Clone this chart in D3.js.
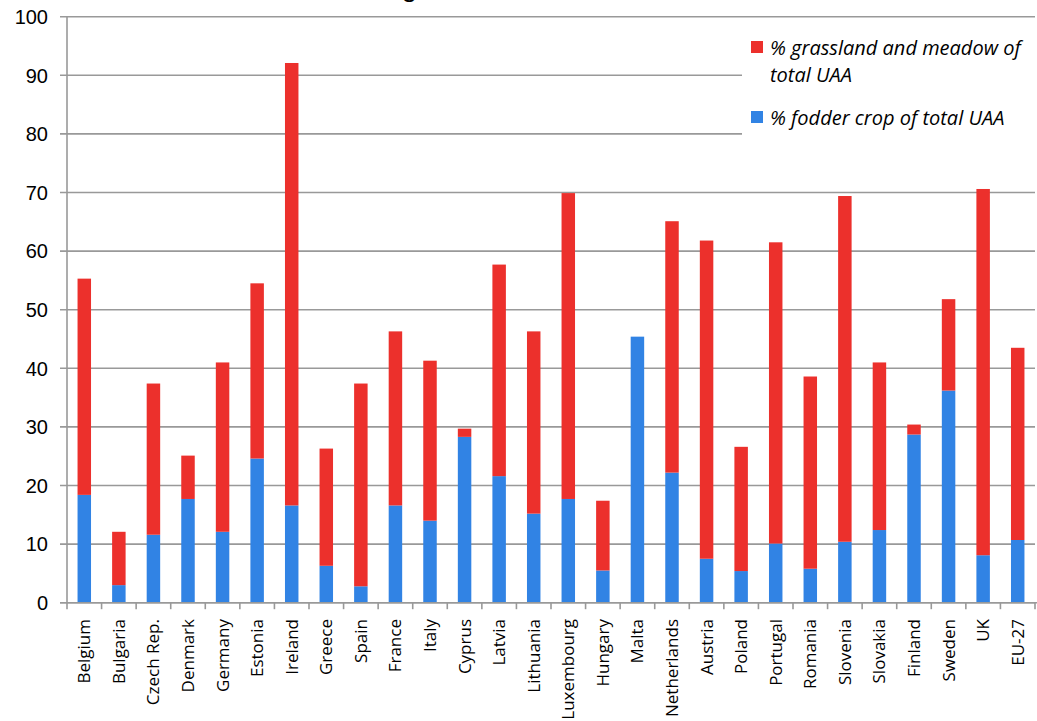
<!DOCTYPE html>
<html>
<head>
<meta charset="utf-8">
<script src="https://cdn.jsdelivr.net/npm/d3@7"></script>
<style>
  html, body { margin: 0; padding: 0; background: #fff; }
  svg { display: block; }
</style>
</head>
<body>
<div id="chart"></div>
<script>
const categories = ["Belgium","Bulgaria","Czech Rep.","Denmark","Germany","Estonia","Ireland","Greece","Spain","France","Italy","Cyprus","Latvia","Lithuania","Luxembourg","Hungary","Malta","Netherlands","Austria","Poland","Portugal","Romania","Slovenia","Slovakia","Finland","Sweden","UK","EU-27"];
const fodder = [18.4,3.0,11.6,17.7,12.1,24.6,16.6,6.3,2.8,16.6,14.0,28.3,21.6,15.2,17.7,5.5,45.4,22.2,7.5,5.4,10.1,5.8,10.4,12.4,28.7,36.2,8.1,10.7];
const grassland = [36.9,9.1,25.8,7.4,28.9,29.9,75.5,20.0,34.6,29.7,27.3,1.4,36.1,31.1,52.2,11.9,0.0,42.9,54.3,21.2,51.4,32.8,59.0,28.6,1.7,15.6,62.5,32.8];
const yTicks = [0,10,20,30,40,50,60,70,80,90,100];
const seriesColors = ["#ec302c", "#3183e4"];

const W = 1037, H = 721;
const svg = d3.select("#chart").append("svg").attr("width", W).attr("height", H);

const x = d3.scaleBand().domain(categories).range([67, 1035]).padding(0);
const y = d3.scaleLinear().domain([0, 100]).range([602.7, 16.7]);
const barW = x.bandwidth() * 0.39;

// title fragment (cut off at top, as in the reference)
svg.append("text").attr("x", 386).attr("y", -4)
  .attr("font-family", "Liberation Sans, Arial, sans-serif").attr("font-size", 28)
  .attr("fill", "#000").text(", g");

// gridlines
const grid = svg.append("g");
yTicks.forEach(t => {
  grid.append("line")
    .attr("x1", 60).attr("x2", 1035)
    .attr("y1", y(t)).attr("y2", y(t))
    .attr("stroke", "#999").attr("stroke-width", 1.6);
});

// y labels
svg.append("g").selectAll("text").data(yTicks).join("text")
  .attr("x", 48).attr("y", d => y(d)).attr("dy", "0.36em")
  .attr("text-anchor", "end")
  .attr("font-family", "Liberation Sans, Arial, sans-serif").attr("font-size", 20)
  .attr("fill", "#000").text(d => d);

// legend background (covers gridlines)
svg.append("rect").attr("x", 742).attr("y", 26).attr("width", 295).attr("height", 124).attr("fill", "#fff");

// bars
const stack = categories.map((c, i) => ({ c, f: fodder[i], g: grassland[i] }));
const bars = svg.append("g");
bars.selectAll("rect.f").data(stack).join("rect").attr("class", "f")
  .attr("x", d => x(d.c) + (x.bandwidth() - barW) / 2)
  .attr("width", barW)
  .attr("y", d => y(d.f))
  .attr("height", d => y(0) - y(d.f))
  .attr("fill", seriesColors[1]);
bars.selectAll("rect.g").data(stack.filter(d => d.g > 0)).join("rect").attr("class", "g")
  .attr("x", d => x(d.c) + (x.bandwidth() - barW) / 2)
  .attr("width", barW)
  .attr("y", d => y(d.f + d.g))
  .attr("height", d => y(d.f) - y(d.f + d.g))
  .attr("fill", seriesColors[0]);

// y axis line
svg.append("line").attr("x1", 67).attr("x2", 67).attr("y1", y(100)).attr("y2", y(0))
  .attr("stroke", "#999").attr("stroke-width", 1.6);

// x axis ticks
const bounds = categories.map(c => x(c)).concat([x.range()[1]]);
svg.append("g").selectAll("line").data(bounds).join("line")
  .attr("x1", d => d).attr("x2", d => d)
  .attr("y1", y(0)).attr("y2", y(0) + 6.5)
  .attr("stroke", "#999").attr("stroke-width", 1.6);
svg.append("line").attr("x1", 60).attr("x2", 1037).attr("y1", y(0)).attr("y2", y(0))
  .attr("stroke", "#999").attr("stroke-width", 1.6);

// x labels
svg.append("g").selectAll("text").data(categories).join("text")
  .attr("transform", d => `translate(${x(d) + x.bandwidth() / 2 + 6},619) rotate(-90)`)
  .attr("text-anchor", "end")
  .attr("font-family", "Open Sans, sans-serif").attr("font-size", 17)
  .attr("fill", "#000").text(d => d);

// legend
const lg = svg.append("g").attr("font-family", "Open Sans, sans-serif").attr("font-style", "italic")
  .attr("font-size", 20).attr("fill", "#000");
lg.append("rect").attr("x", 751).attr("y", 41).attr("width", 12).attr("height", 12).attr("fill", seriesColors[0]);
lg.append("text").attr("x", 770).attr("y", 55).text("% grassland and meadow of");
lg.append("text").attr("x", 770).attr("y", 82).text("total UAA");
lg.append("rect").attr("x", 751).attr("y", 111).attr("width", 12).attr("height", 12).attr("fill", seriesColors[1]);
lg.append("text").attr("x", 770).attr("y", 125).text("% fodder crop of total UAA");
</script>
</body>
</html>
